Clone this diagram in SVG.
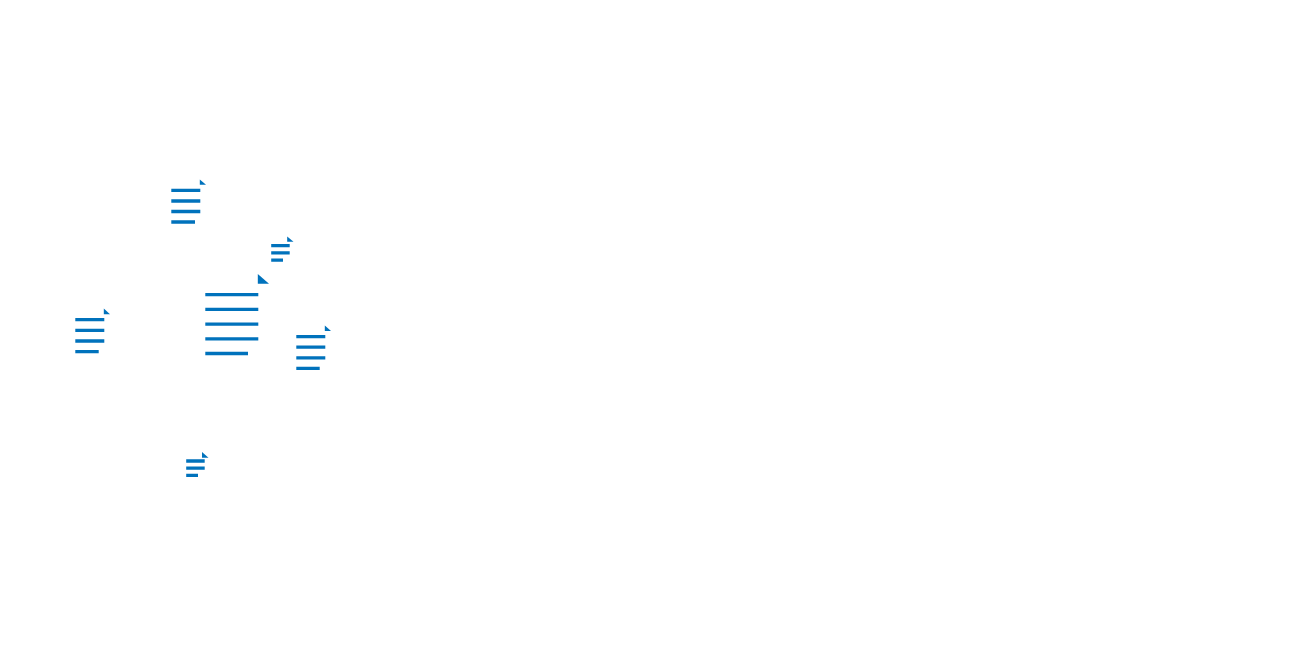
<svg xmlns="http://www.w3.org/2000/svg" width="1302" height="660" viewBox="0 0 1302 660">
<style>
.l{stroke:#0072bc;fill:none}
.s{stroke-width:3.3}
.b{stroke-width:3.3}
.t{fill:#0072bc}
</style>
<rect width="1302" height="660" fill="#fff"/>
<g id="doc-top">
<path class="l b" d="M171.300 190.300H200.300M171.300 201H200.300M171.300 211.500H200.300M171.300 222H195"/>
<path class="t" d="M199.800 179.500V184.700H206Z"/>
</g>
<g id="doc-small-right">
<path class="l s" d="M271.200 245.700H289.700M271.200 252.900H289.700M271.200 260.100H283"/>
<path class="t" d="M287.200 236.500V241.700H293.500Z"/>
</g>
<g id="doc-large">
<path class="l b" d="M205.300 294.700H258.300M205.300 309.400H258.300M205.300 324.100H258.300M205.300 338.800H258.300M205.300 353.500H248"/>
<path class="t" d="M257.800 274V283.700H269Z"/>
</g>
<g id="doc-left">
<path class="l b" d="M75.300 319.700H104.300M75.300 330.300H104.300M75.300 341H104.300M75.300 351.700H98.700"/>
<path class="t" d="M103.800 308.500V314.200H110Z"/>
</g>
<g id="doc-right">
<path class="l b" d="M296.300 336.700H325.300M296.300 347.200H325.300M296.300 357.800H325.300M296.300 368.400H319.700"/>
<path class="t" d="M324.800 325.500V331H331Z"/>
</g>
<g id="doc-bottom">
<path class="l s" d="M186.200 461H204.700M186.200 468.200H204.700M186.200 475.400H198"/>
<path class="t" d="M202 452V457.700H208.500Z"/>
</g>
<g id="connectors"/>
</svg>
